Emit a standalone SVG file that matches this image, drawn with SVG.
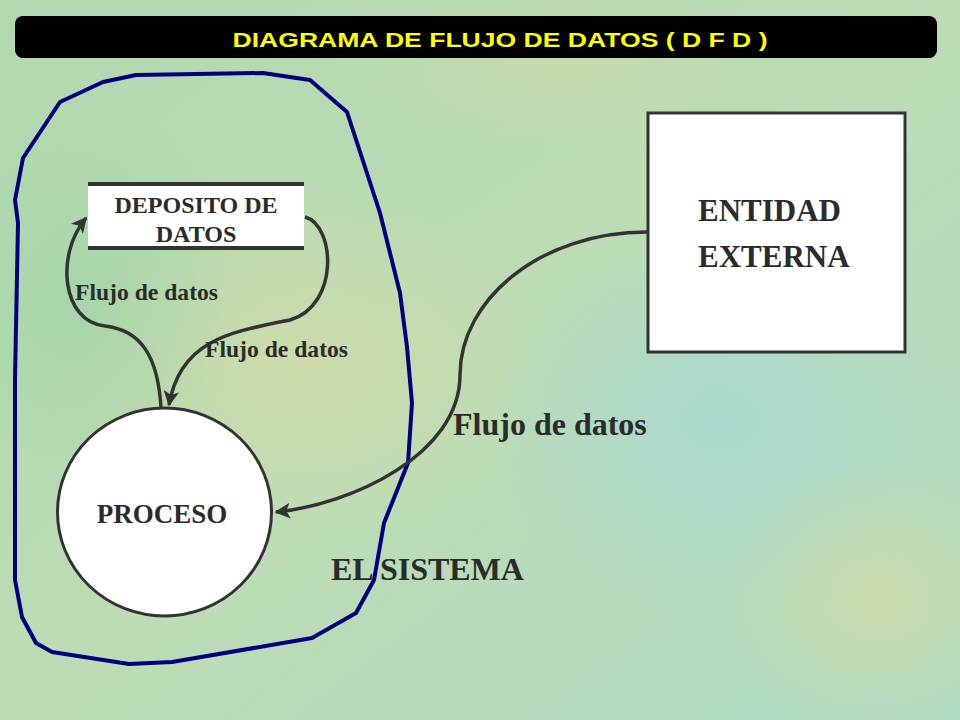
<svg xmlns="http://www.w3.org/2000/svg" width="960" height="720" viewBox="0 0 960 720">
  <defs>
    <linearGradient id="bg" x1="0" y1="0" x2="1" y2="1">
      <stop offset="0" stop-color="#b2d8b0"/>
      <stop offset="0.5" stop-color="#bcdcb4"/>
      <stop offset="1" stop-color="#aedbc4"/>
    </linearGradient>
    <radialGradient id="blobY" cx="0.5" cy="0.5" r="0.5">
      <stop offset="0" stop-color="#d2dba8" stop-opacity="0.8"/>
      <stop offset="1" stop-color="#d2dba8" stop-opacity="0"/>
    </radialGradient>
    <radialGradient id="blobB" cx="0.5" cy="0.5" r="0.5">
      <stop offset="0" stop-color="#a6d8d4" stop-opacity="0.8"/>
      <stop offset="1" stop-color="#a6d8d4" stop-opacity="0"/>
    </radialGradient>
    <radialGradient id="blobG" cx="0.5" cy="0.5" r="0.5">
      <stop offset="0" stop-color="#9ed4a4" stop-opacity="0.7"/>
      <stop offset="1" stop-color="#9ed4a4" stop-opacity="0"/>
    </radialGradient>
    <marker id="arrow" viewBox="0 0 10 10" refX="9" refY="5" markerWidth="4.5" markerHeight="4.5" orient="auto" markerUnits="strokeWidth">
      <path d="M0,0 L10,5 L0,10 L2.5,5 Z" fill="#333333"/>
    </marker>
    <style>
      .flow { fill: none; stroke: #333333; stroke-width: 3.5; }
      .serif { font-family: "Liberation Serif", "Times New Roman", serif; font-weight: bold; fill: #2b2b2b; }
      .box { fill: #ffffff; stroke: #333333; stroke-width: 3; }
    </style>
  </defs>

  <!-- background -->
  <rect x="0" y="0" width="960" height="720" fill="url(#bg)"/>
  <ellipse cx="300" cy="360" rx="260" ry="180" fill="url(#blobY)"/>
  <ellipse cx="720" cy="420" rx="240" ry="200" fill="url(#blobB)"/>
  <ellipse cx="80" cy="300" rx="160" ry="200" fill="url(#blobG)"/>
  <ellipse cx="560" cy="70" rx="240" ry="80" fill="url(#blobY)" opacity="0.6"/>
  <ellipse cx="880" cy="600" rx="160" ry="140" fill="url(#blobY)"/>

  <!-- title -->
  <g id="title">
    <rect x="15" y="16" width="922" height="42" rx="8" ry="8" fill="#000000"/>
    <text x="500" y="47" text-anchor="middle" font-family="Liberation Sans, Arial, sans-serif" font-weight="bold" font-size="20" fill="#ffff00" textLength="535" lengthAdjust="spacingAndGlyphs">DIAGRAMA DE FLUJO DE DATOS ( D F D )</text>
  </g>

  <!-- system boundary -->
  <g id="sistema">
    <path d="M60,102 L103,82 L136,75 L263,73 L310,80 L347,112 L380,213 L400,293 L407,347 L412,403 L408,463 L384,523 L374,580 L356,613 L312,638 L172,662 L129,664 L52,652 L36,643 L22,617 L15,580 L15,380 L18,223 L15,200 L23,158 Z" fill="none" stroke="#000080" stroke-width="4" stroke-linejoin="round"/>
    <text class="serif" x="331" y="580" font-size="32">EL SISTEMA</text>
  </g>

  <!-- data store -->
  <g id="deposito">
    <rect x="88" y="184" width="216" height="64" fill="#ffffff"/>
    <line x1="88" y1="184" x2="304" y2="184" stroke="#333333" stroke-width="4"/>
    <line x1="88" y1="248" x2="304" y2="248" stroke="#333333" stroke-width="4"/>
    <text class="serif" x="196" y="213" font-size="24" text-anchor="middle">DEPOSITO DE</text>
    <text class="serif" x="196" y="242" font-size="24" text-anchor="middle">DATOS</text>
  </g>

  <!-- process -->
  <g id="proceso">
    <ellipse cx="164.5" cy="512" rx="107" ry="104" class="box"/>
    <text class="serif" x="162" y="523" font-size="27" text-anchor="middle">PROCESO</text>
  </g>

  <!-- external entity -->
  <g id="entidad">
    <rect x="648" y="113" width="257" height="239" class="box"/>
    <text class="serif" x="698" y="221" font-size="31">ENTIDAD</text>
    <text class="serif" x="698" y="267" font-size="31">EXTERNA</text>
  </g>

  <!-- connectors -->
  <g id="connectors">
    <path class="flow" d="M161,408 C158,355 140,330 105,326 C62,322 55,255 86,218" marker-end="url(#arrow)"/>
    <path class="flow" d="M305,217 C335,225 340,305 290,320 C230,332 180,340 169,405" marker-end="url(#arrow)"/>
    <path class="flow" d="M647,232 C540,232 460,300 460,375 C460,455 350,505 276,512" marker-end="url(#arrow)"/>
  </g>

  <!-- connector labels -->
  <g id="labels">
    <text class="serif" x="75" y="300" font-size="24" textLength="143" lengthAdjust="spacingAndGlyphs">Flujo de datos</text>
    <text class="serif" x="205" y="357" font-size="24" textLength="143" lengthAdjust="spacingAndGlyphs">Flujo de datos</text>
    <text class="serif" x="453" y="435" font-size="32">Flujo de datos</text>
  </g>
</svg>
